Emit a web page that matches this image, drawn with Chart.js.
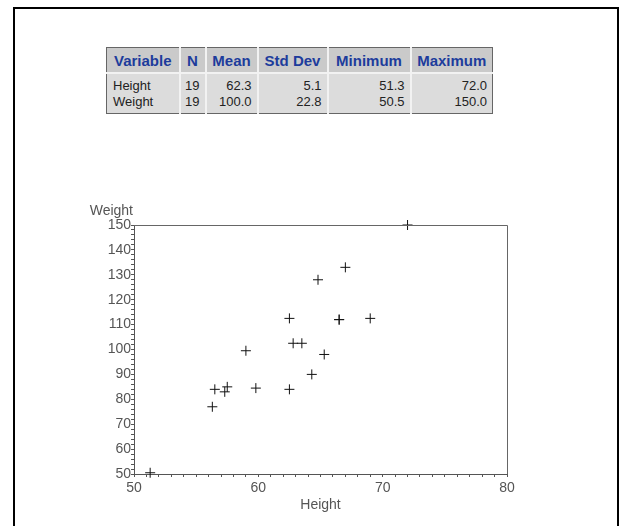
<!DOCTYPE html>
<html>
<head>
<meta charset="utf-8">
<script src="https://cdn.jsdelivr.net/npm/chart.js@4.4.0/dist/chart.umd.min.js"></script>
<style>
  body { margin: 0; width: 622px; height: 526px; background: #fff; overflow: hidden; position: relative; font-family: "Liberation Sans", Arial, sans-serif; }
  #frame { position: absolute; left: 13px; top: 7px; width: 602px; height: 600px; border: 2px solid #000; border-bottom: none; }
  #stats { position: absolute; left: 106px; top: 47px; width: 386px; table-layout: fixed; border-collapse: collapse; border: 1px solid #666; background: #dcdcdc; }
  #stats th { background: #cacaca; color: #1d3c9c; font: bold 15px "Liberation Sans", Arial, sans-serif; height: 24px; padding: 0; text-align: center; white-space: nowrap; border-left: 2px solid #f2f2f2; border-bottom: 2px solid #f2f2f2; }
  #stats td { font: 13px "Liberation Sans", Arial, sans-serif; color: #222; padding: 0 5px 0 0; height: 16px; text-align: right; border-left: 2px solid #f2f2f2; }
  #stats th:first-child, #stats td:first-child { border-left: none; }
  #stats td:first-child { text-align: left; padding-left: 6px; }
  #stats tr.first td { padding-top: 3px; }
  #stats tr.last td { padding-bottom: 4px; }
  #wrap { position: absolute; left: 0; top: 190px; width: 622px; height: 336px; }
</style>
</head>
<body>
<div id="frame"></div>
<table id="stats">
  <colgroup id="cols"></colgroup>
  <thead><tr id="head"></tr></thead>
  <tbody id="body"></tbody>
</table>
<div id="wrap"><canvas id="scatter"></canvas></div>
<script>
// summary table
var columns = ['Variable', 'N', 'Mean', 'Std Dev', 'Minimum', 'Maximum'];
var colWidths = [73, 26, 52, 70, 83, 82];
var statRows = [
  ['Height', '19', '62.3', '5.1', '51.3', '72.0'],
  ['Weight', '19', '100.0', '22.8', '50.5', '150.0']
];

// scatter data (Height vs Weight)
var height = [69.0, 56.5, 65.3, 62.8, 63.5, 57.3, 59.8, 62.5, 62.5, 59.0, 51.3, 64.3, 56.3, 66.5, 72.0, 64.8, 67.0, 57.5, 66.5];
var weight = [112.5, 84.0, 98.0, 102.5, 102.5, 83.0, 84.5, 112.5, 84.0, 99.5, 50.5, 90.0, 77.0, 112.0, 150.0, 128.0, 133.0, 85.0, 112.0];
var xTicks = [50, 60, 70, 80];
var yTicks = [50, 60, 70, 80, 90, 100, 110, 120, 130, 140, 150];

var cols = document.getElementById('cols');
var head = document.getElementById('head');
columns.forEach(function (c, i) {
  var col = document.createElement('col');
  col.style.width = colWidths[i] + 'px';
  cols.appendChild(col);
  var th = document.createElement('th');
  th.textContent = c;
  head.appendChild(th);
});
var body = document.getElementById('body');
statRows.forEach(function (r, ri) {
  var tr = document.createElement('tr');
  if (ri === 0) tr.className = 'first';
  if (ri === statRows.length - 1) tr.className = 'last';
  r.forEach(function (v) {
    var td = document.createElement('td');
    td.textContent = v;
    tr.appendChild(td);
  });
  body.appendChild(tr);
});

var points = height.map(function (h, i) { return { x: h, y: weight[i] }; });
var axisColor = '#555';
var labelFont = { family: '"Liberation Sans", Arial, sans-serif', size: 14 };

// box around plot area + y axis caption at top
var boxPlugin = {
  id: 'box',
  afterDraw: function (chart) {
    var a = chart.chartArea, ctx = chart.ctx;
    ctx.save();
    ctx.strokeStyle = '#666';
    ctx.lineWidth = 1;
    ctx.beginPath();
    ctx.moveTo(a.left, a.top + 0.5);
    ctx.lineTo(a.right + 0.5, a.top + 0.5);
    ctx.lineTo(a.right + 0.5, a.bottom);
    ctx.stroke();
    ctx.fillStyle = axisColor;
    ctx.font = '14px "Liberation Sans", Arial, sans-serif';
    ctx.textAlign = 'right';
    ctx.textBaseline = 'middle';
    ctx.fillText('Weight', a.left - 1, a.top - 14);
    ctx.restore();
  }
};

new Chart(document.getElementById('scatter').getContext('2d'), {
  type: 'scatter',
  data: {
    datasets: [{
      label: 'Weight',
      data: points,
      pointStyle: 'cross',
      pointRadius: 5,
      pointHoverRadius: 5,
      borderColor: '#111',
      backgroundColor: '#111',
      borderWidth: 1,
      clip: false
    }]
  },
  options: {
    responsive: true,
    maintainAspectRatio: false,
    animation: false,
    layout: { padding: { left: 94, right: 115, top: 35, bottom: 0 } },
    plugins: { legend: { display: false }, tooltip: { enabled: false } },
    scales: {
      x: {
        type: 'linear',
        min: 50, max: 80,
        afterFit: function (s) { s.height = 52; },
        border: { display: true, color: axisColor, width: 1 },
        grid: { drawOnChartArea: false, drawTicks: true, tickLength: 3, color: axisColor },
        ticks: {
          stepSize: 1, autoSkip: false, maxRotation: 0, padding: 3,
          color: axisColor, font: labelFont,
          callback: function (v) { return xTicks.indexOf(v) >= 0 ? v : ''; }
        },
        title: { display: true, text: 'Height', color: axisColor, font: labelFont, padding: { top: 0, bottom: 12 } }
      },
      y: {
        type: 'linear',
        min: 50, max: 150,
        afterFit: function (s) { s.width = 40; },
        border: { display: true, color: axisColor, width: 1 },
        grid: { drawOnChartArea: false, drawTicks: true, tickLength: 3, color: axisColor },
        ticks: {
          stepSize: 2, autoSkip: false, padding: 0,
          color: axisColor, font: labelFont,
          callback: function (v) { return yTicks.indexOf(v) >= 0 ? v : ''; }
        }
      }
    }
  },
  plugins: [boxPlugin]
});
</script>
</body>
</html>
